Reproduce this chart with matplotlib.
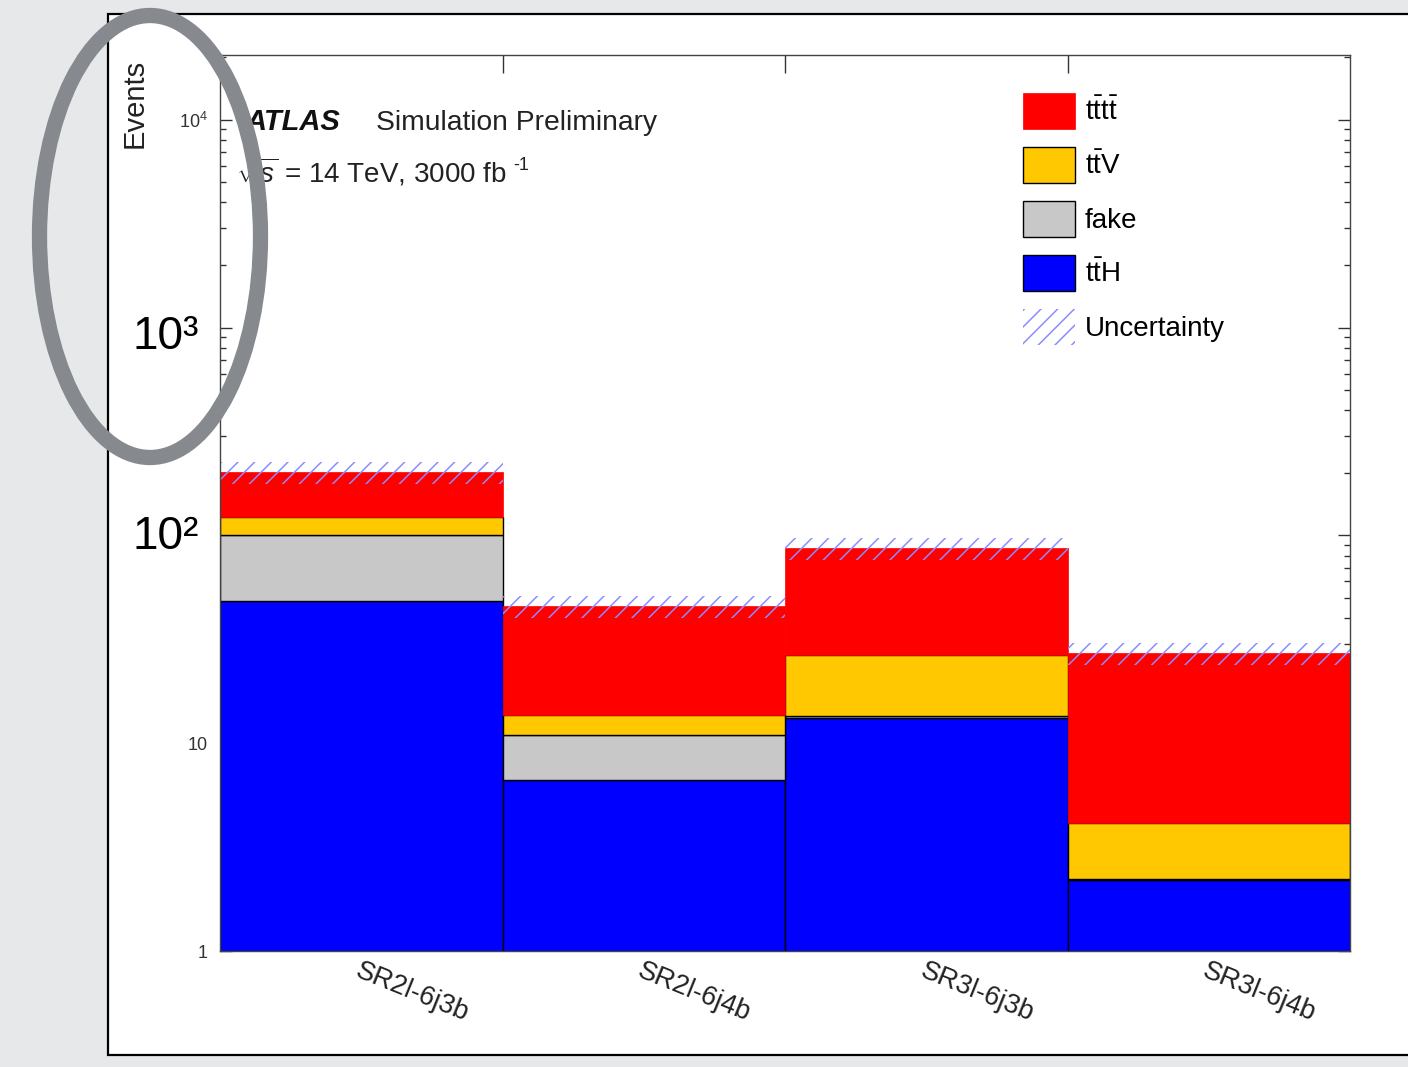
import matplotlib
matplotlib.use("Agg")
import matplotlib.pyplot as plt
from matplotlib.patches import Patch, Rectangle, Ellipse
from matplotlib.ticker import LogLocator, FixedLocator, NullFormatter, FixedFormatter
import numpy as np

plt.rcParams['font.family'] = ['Liberation Sans', 'DejaVu Sans']
plt.rcParams['mathtext.fontset'] = 'custom'
plt.rcParams['mathtext.rm'] = 'Liberation Sans'
plt.rcParams['mathtext.it'] = 'Liberation Sans:italic'
plt.rcParams['mathtext.bf'] = 'Liberation Sans:bold'
plt.rcParams['hatch.linewidth'] = 1.1

# ---- data ----
regions = ["SR2l-6j3b", "SR2l-6j4b", "SR3l-6j3b", "SR3l-6j4b"]
ttH = [48.2, 6.64, 13.2, 2.19]
fake = [51.8, 4.29, 0.3, 0.03]
ttV = [22.0, 2.70, 13.0, 1.90]
tttt = [79.0, 32.0, 60.0, 23.0]
rel_unc = 0.12

legend_labels = [r"$\mathrm{t\bar{t}t\bar{t}}$", r"$\mathrm{t\bar{t}V}$", "fake",
                 r"$\mathrm{t\bar{t}H}$", "Uncertainty"]

W, H = 1408, 1067
fig = plt.figure(figsize=(W / 100, H / 100), dpi=100, facecolor="#e7e8e9")

# white panel
fig.patches.append(Rectangle((108 / W, 1 - 1055 / H), 1.2, (1055 - 14) / H,
                             transform=fig.transFigure, facecolor="white",
                             edgecolor="black", linewidth=1.6, zorder=-10))

ax = fig.add_axes([220 / W, 1 - 951 / H, (1350 - 220) / W, (951 - 55) / H])
ax.set_facecolor("white")

x = np.arange(len(regions)) + 0.5
ttH_a = np.array(ttH)
fake_a = np.array(fake)
ttV_a = np.array(ttV)
tttt_a = np.array(tttt)

b0 = np.full(len(regions), 1e-3)
ax.bar(x, ttH_a - b0, bottom=b0, width=1.0, color="#0000ff",
       edgecolor="black", linewidth=1.0, zorder=2)
b1 = ttH_a
ax.bar(x, fake_a, bottom=b1, width=1.0, color="#c8c8c8",
       edgecolor="black", linewidth=1.0, zorder=2)
b2 = b1 + fake_a
ax.bar(x, ttV_a, bottom=b2, width=1.0, color="#ffc800",
       edgecolor="black", linewidth=1.0, zorder=2)
b3 = b2 + ttV_a
ax.bar(x, tttt_a, bottom=b3, width=1.0, color="#ff0000",
       edgecolor="#ff0000", linewidth=0.5, zorder=2)
total = b3 + tttt_a
ax.bar(x, total * 2 * rel_unc, bottom=total * (1 - rel_unc), width=1.0,
       fill=False, hatch="//", edgecolor="#8c8cff", linewidth=0, zorder=3)

ax.set_yscale("log")
ax.set_ylim(1, 2.05e4)
ax.set_xlim(0, 4)

# x ticks: major at bin edges (no labels), minor at centers (labels)
ax.xaxis.set_major_locator(FixedLocator([1, 2, 3]))
ax.xaxis.set_major_formatter(NullFormatter())
ax.tick_params(axis="x", which="major", direction="in", length=13, width=1,
               top=True, bottom=True, color="#333333")
ax.xaxis.set_minor_locator(FixedLocator(x))
ax.xaxis.set_minor_formatter(FixedFormatter(regions))
ax.tick_params(axis="x", which="minor", length=0, pad=5, labelsize=19.5)
for lab in ax.get_xticklabels(minor=True):
    lab.set_rotation(-22)
    lab.set_ha("left")
    lab.set_va("top")
    lab.set_rotation_mode("anchor")
    lab.set_color("#222222")

# y ticks
ax.yaxis.set_major_locator(FixedLocator([1, 10, 100, 1000, 10000]))
ax.yaxis.set_major_formatter(FixedFormatter(["1", "10", "", "", r"$10^{4}$"]))
ax.yaxis.set_minor_locator(LogLocator(base=10, subs=np.arange(2, 10)))
ax.yaxis.set_minor_formatter(NullFormatter())
ax.tick_params(axis="y", which="major", direction="in", length=8.6, width=1,
               left=True, right=True, labelsize=13, pad=9, colors="#333333")
ax.tick_params(axis="y", which="minor", direction="in", length=4.5, width=1,
               left=True, right=True, color="#333333")
for s in ax.spines.values():
    s.set_linewidth(1.0)
    s.set_color("#444444")
    s.set_zorder(4)

fig.text(135 / W, 1 - 59 / H, "Events", rotation=90, ha="center", va="top",
         fontsize=21, color="#222222")

# ATLAS labels
fig.text(246 / W, 1 - 130 / H, "ATLAS", fontsize=21, fontweight="bold",
         fontstyle="italic", ha="left", va="baseline", color="#111111")
fig.text(376 / W, 1 - 130 / H, "Simulation Preliminary", fontsize=20.3,
         ha="left", va="baseline", color="#222222")
fig.text(236 / W, 1 - 183 / H, r"$\sqrt{s}$ = 14 TeV, 3000 fb",
         fontsize=20, ha="left", va="baseline", color="#222222")
fig.text(513 / W, 1 - 170 / H, "-1", fontsize=13, ha="left", va="baseline",
         color="#222222")

# legend
handles = [
    Patch(facecolor="#ff0000", edgecolor="#ff0000", linewidth=0.5),
    Patch(facecolor="#ffc800", edgecolor="black", linewidth=1.0),
    Patch(facecolor="#c8c8c8", edgecolor="black", linewidth=1.0),
    Patch(facecolor="#0000ff", edgecolor="black", linewidth=1.0),
    Patch(facecolor="none", edgecolor="#8c8cff", linewidth=0, hatch="//"),
]
ax.legend(handles, legend_labels, loc="upper left",
          bbox_to_anchor=((1023 - 220) / 1130, (951 - 93) / 896),
          frameon=False, fontsize=20, handlelength=1.87, handleheight=1.6,
          labelspacing=0.66, handletextpad=0.36, borderpad=0, borderaxespad=0)

# large overlay labels
fig.text(133 / W, 1 - 337 / H, "10³", fontsize=33, ha="left", va="center",
         color="black", zorder=10)
fig.text(133 / W, 1 - 537 / H, "10²", fontsize=33, ha="left", va="center",
         color="black", zorder=10)

# grey ellipse annotation
fig.add_artist(Ellipse((150 / W, 1 - 236.5 / H), 221 / W, 442 / H,
                       transform=fig.transFigure, fill=False,
                       edgecolor="#86898d", linewidth=11, zorder=20))

fig.savefig("out.png", dpi=100, facecolor=fig.get_facecolor())
